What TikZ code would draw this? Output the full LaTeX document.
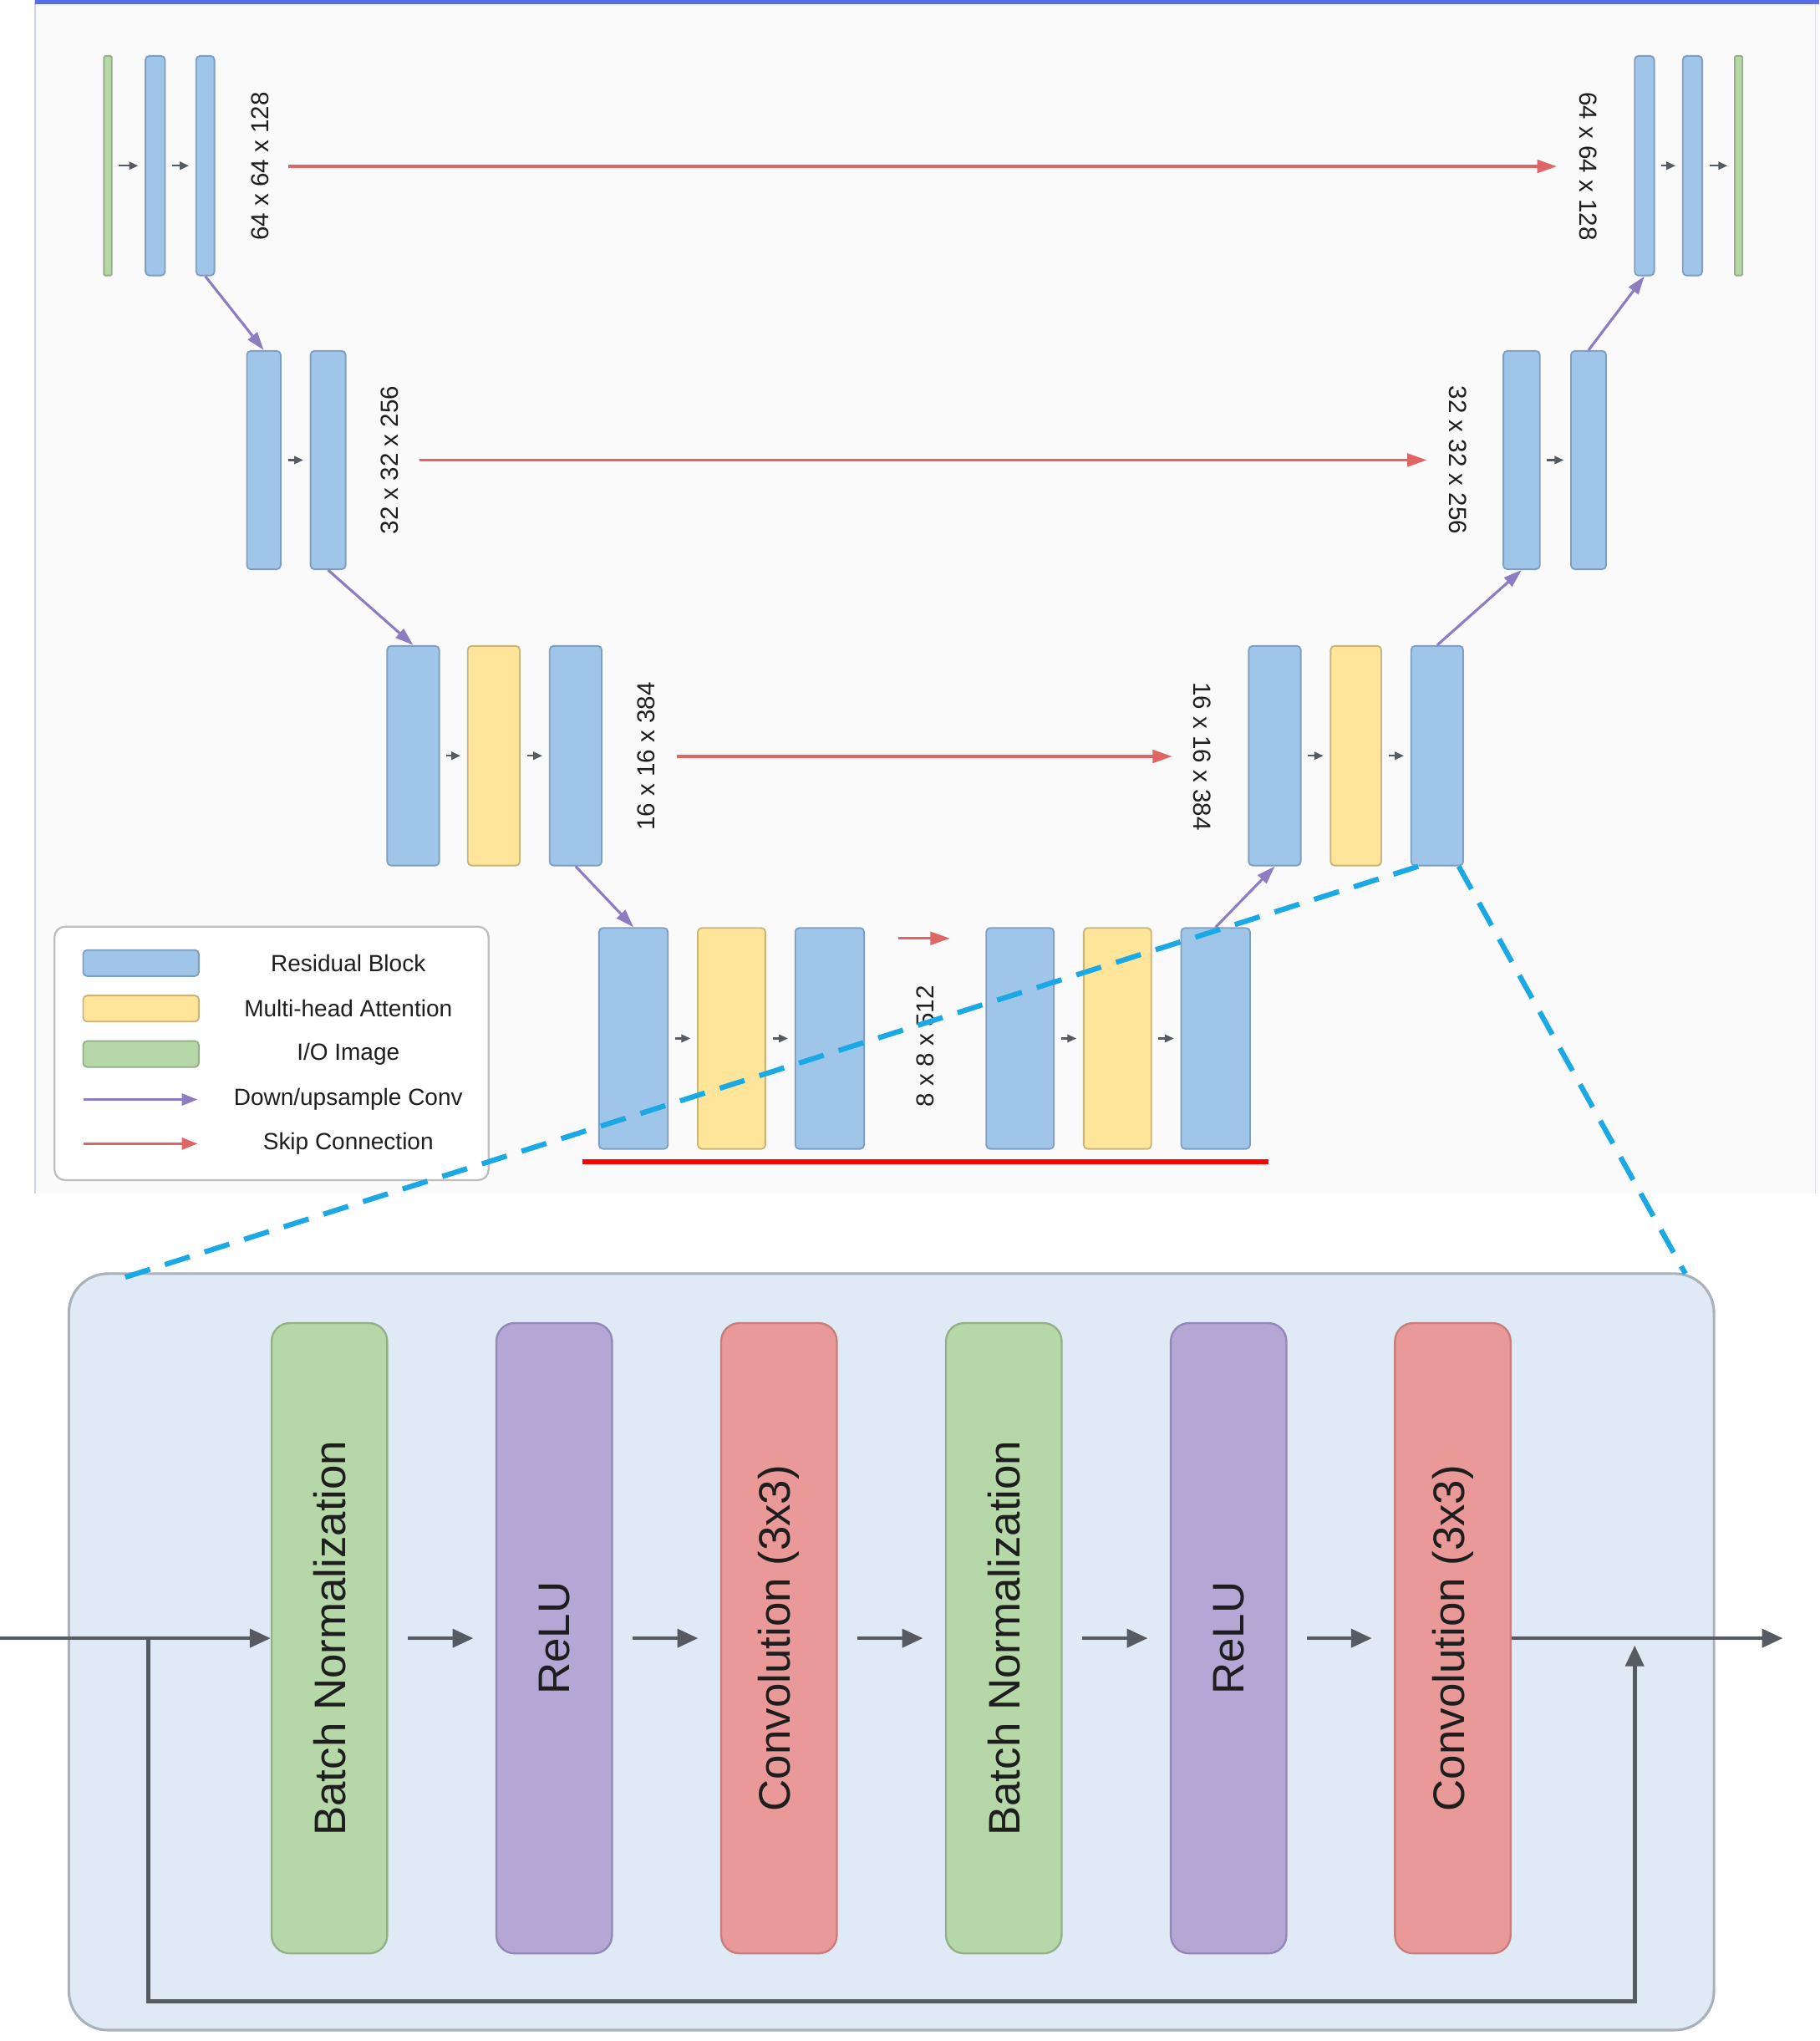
\documentclass[tikz,border=0pt]{standalone}
\usepackage{fontspec}
\setmainfont{Liberation Sans}
\usetikzlibrary{arrows.meta}
\definecolor{blueF}{HTML}{9FC5E8}
\definecolor{blueD}{HTML}{7E9FC2}
\definecolor{yelF}{HTML}{FFE599}
\definecolor{yelD}{HTML}{C9B57C}
\definecolor{grnF}{HTML}{B6D7A8}
\definecolor{grnD}{HTML}{93B088}
\definecolor{purF}{HTML}{B4A7D6}
\definecolor{purD}{HTML}{9387B5}
\definecolor{redF}{HTML}{EA9999}
\definecolor{redD}{HTML}{C97E7E}
\definecolor{purA}{HTML}{8E7CC3}
\definecolor{redA}{HTML}{E06666}
\definecolor{grayA}{HTML}{555B60}
\definecolor{cyanD}{HTML}{1BA9E6}
\definecolor{panelF}{HTML}{DFEAF6}
\definecolor{panelD}{HTML}{A9B2BB}
\definecolor{topbg}{HTML}{FAFAFA}
\definecolor{txt}{HTML}{1E1E1E}
\tikzset{
  blk/.style={draw=blueD, fill=blueF, line width=1.2pt, rounded corners=3pt, inner sep=0pt},
  blkb/.style={blk},
  blky/.style={blk, draw=yelD, fill=yelF},
  blkg/.style={blk, draw=grnD, fill=grnF, rounded corners=1pt},
  small/.style={draw=grayA, line width=1.5pt, -{Triangle[length=7pt,width=6pt]}, shorten <=5pt, shorten >=5pt},
  down/.style={draw=purA, line width=2pt, -{Triangle[length=14pt,width=9pt]}},
  skip/.style={draw=redA, line width=2pt, -{Triangle[length=15pt,width=10pt]}},
  dimlbl/.style={font=\fontsize{19}{22}\selectfont, text=txt, inner sep=0pt},
  leglbl/.style={font=\fontsize{18}{21}\selectfont, text=txt, inner sep=0pt},
  big/.style={draw, line width=1.5pt, rounded corners=14pt, minimum width=485pt, minimum height=89pt, inner sep=0pt,
    font=\fontsize{34}{40}\selectfont, text=txt},
  bgreen/.style={big, draw=grnD, fill=grnF},
  bpurple/.style={big, draw=purD, fill=purF},
  bred/.style={big, draw=redD, fill=redF},
  flow/.style={draw=grayA, line width=3pt, -{Triangle[length=16pt,width=14pt]}},
  cut/.style={draw=cyanD, line width=4pt, dash pattern=on 20pt off 12pt}
}
\begin{document}
\begin{tikzpicture}[x=1pt, y=-1pt]
\useasboundingbox (0,0) rectangle (1400,1570.4);
% upper panel background
\fill[topbg] (27,0) rectangle (1400,918);
\draw[draw={rgb,255:red,200;green,212;blue,240}, line width=1.5pt] (27,0) -- (27,918);
\draw[draw={rgb,255:red,225;green,228;blue,235}, line width=1pt] (1397,0) -- (1397,918);
\draw[draw={rgb,255:red,91;green,110;blue,225}, line width=3pt] (27,1.5) -- (1400,1.5);

% ---------- Row 1 ----------
\node[blkg, minimum width=6pt, minimum height=169pt] (g1) at (83,127.5) {};
\node[blkb, minimum width=15pt, minimum height=169pt] (b1a) at (119.5,127.5) {};
\node[blkb, minimum width=14pt, minimum height=169pt] (b1b) at (158,127.5) {};
\node[blkb, minimum width=15pt, minimum height=169pt] (b1c) at (1265.5,127.5) {};
\node[blkb, minimum width=15pt, minimum height=169pt] (b1d) at (1302.5,127.5) {};
\node[blkg, minimum width=6pt, minimum height=169pt] (g2) at (1338,127.5) {};
\draw[small] (g1) -- (b1a);
\draw[small] (b1a) -- (b1b);
\draw[small] (b1c) -- (b1d);
\draw[small] (b1d) -- (g2);
\node[dimlbl, rotate=90] (L1) at (200,128) {64 x 64 x 128};
\node[dimlbl, rotate=-90] (R1) at (1222,128) {64 x 64 x 128};
\draw[skip] ([xshift=22pt]L1.center) -- ([xshift=-24pt]R1.center);

% ---------- Row 2 ----------
\node[blkb, minimum width=26pt, minimum height=168pt] (b2a) at (203,354) {};
\node[blkb, minimum width=27pt, minimum height=168pt] (b2b) at (252.5,354) {};
\node[blkb, minimum width=28pt, minimum height=168pt] (b2c) at (1171,354) {};
\node[blkb, minimum width=27pt, minimum height=168pt] (b2d) at (1222.5,354) {};
\draw[small] (b2a) -- (b2b);
\draw[small] (b2c) -- (b2d);
\node[dimlbl, rotate=90] (L2) at (300,354) {32 x 32 x 256};
\node[dimlbl, rotate=-90] (R2) at (1122,354) {32 x 32 x 256};
\draw[skip] ([xshift=23pt]L2.center) -- ([xshift=-24pt]R2.center);

% ---------- Row 3 ----------
\node[blkb, minimum width=40pt, minimum height=169pt] (b3a) at (318,581.5) {};
\node[blky, minimum width=40pt, minimum height=169pt] (y3a) at (380,581.5) {};
\node[blkb, minimum width=40pt, minimum height=169pt] (b3b) at (443,581.5) {};
\node[blkb, minimum width=40pt, minimum height=169pt] (b3c) at (981,581.5) {};
\node[blky, minimum width=39pt, minimum height=169pt] (y3b) at (1043.5,581.5) {};
\node[blkb, minimum width=40pt, minimum height=169pt] (b3d) at (1106,581.5) {};
\draw[small] (b3a) -- (y3a);
\draw[small] (y3a) -- (b3b);
\draw[small] (b3c) -- (y3b);
\draw[small] (y3b) -- (b3d);
\node[dimlbl, rotate=90] (L3) at (497,582) {16 x 16 x 384};
\node[dimlbl, rotate=-90] (R3) at (925,582) {16 x 16 x 384};
\draw[skip] ([xshift=24pt]L3.center) -- ([xshift=-23pt]R3.center);

% ---------- Row 4 ----------
\node[blkb, minimum width=53pt, minimum height=170pt] (b4a) at (487.5,799) {};
\node[blky, minimum width=52pt, minimum height=170pt] (y4a) at (563,799) {};
\node[blkb, minimum width=53pt, minimum height=170pt] (b4b) at (638.5,799) {};
\node[blkb, minimum width=52pt, minimum height=170pt] (b4c) at (785,799) {};
\node[blky, minimum width=52pt, minimum height=170pt] (y4b) at (860,799) {};
\node[blkb, minimum width=53pt, minimum height=170pt] (b4d) at (935.5,799) {};
\draw[small] (b4a) -- (y4a);
\draw[small] (y4a) -- (b4b);
\draw[small] (b4c) -- (y4b);
\draw[small] (y4b) -- (b4d);
\node[dimlbl, rotate=90] (L4) at (712,805) {8 x 8 x 512};
\coordinate (s4a) at (691,722);
\coordinate (s4b) at (731,722);
\draw[skip] (s4a) -- (s4b);
\coordinate (ul1) at (448,894);
\coordinate (ul2) at (976,894);
\draw[draw={rgb,255:red,255;green,0;blue,0}, line width=4pt] (ul1) -- (ul2);

% ---------- down/upsample arrows ----------
\draw[down] (b1b.south) -- (b2a.north);
\draw[down] (b2b.south) -- (b3a.north);
\draw[down] (b3b.south) -- (b4a.north);
\draw[down] (b4d.north) -- (b3c.south);
\draw[down] (b3d.north) -- (b2c.south);
\draw[down] (b2d.north) -- (b1c.south);

% ---------- legend ----------
\node[draw={rgb,255:red,190;green,190;blue,190}, fill=white, line width=1.5pt, rounded corners=8pt,
      minimum width=334pt, minimum height=195pt, inner sep=0pt] (legend) at (209,810.5) {};
\node[blkb, minimum width=89pt, minimum height=20pt] (sw1) at (108.5,741) {};
\node[blky, minimum width=89pt, minimum height=20pt] (sw2) at (108.5,776) {};
\node[blkg, rounded corners=3pt, minimum width=89pt, minimum height=20pt] (sw3) at (108.5,811) {};
\coordinate (la1) at (64,846);
\coordinate (la2) at (152,846);
\coordinate (lb1) at (64,880);
\coordinate (lb2) at (152,880);
\draw[down, -{Triangle[length=12pt,width=9pt]}] (la1) -- (la2);
\draw[skip, -{Triangle[length=12pt,width=9pt]}] (lb1) -- (lb2);
\node[leglbl] (t1) at (268,741) {Residual Block};
\node[leglbl] (t2) at (268,776) {Multi-head Attention};
\node[leglbl] (t3) at (268,811) {I/O Image};
\node[leglbl] (t4) at (268,846) {Down/upsample Conv};
\node[leglbl] (t5) at (268,880) {Skip Connection};

% ---------- lower panel ----------
\node[draw=panelD, fill=panelF, line width=2pt, rounded corners=30pt,
      minimum width=1266pt, minimum height=582pt, inner sep=0pt] (panel) at (686,1271) {};
\node[bgreen, rotate=90] (bn1) at (253.5,1260.5) {Batch Normalization};
\node[bpurple, rotate=90] (re1) at (426.5,1260.5) {ReLU};
\node[bred, rotate=90] (cv1) at (599.5,1260.5) {Convolution (3x3)};
\node[bgreen, rotate=90] (bn2) at (772.5,1260.5) {Batch Normalization};
\node[bpurple, rotate=90] (re2) at (945.5,1260.5) {ReLU};
\node[bred, rotate=90] (cv2) at (1118,1260.5) {Convolution (3x3)};

\coordinate (inp) at (0,1260.5);
\coordinate (sk) at (114,1260.5);
\coordinate (skb) at (1258,1540);
\coordinate (ske) at (1258,1266);
\coordinate (outp) at (1372,1260.5);
\draw[flow] (inp) -- (bn1.north);
\draw[flow, shorten <=15pt, shorten >=17pt] (bn1.south) -- (re1.north);
\draw[flow, shorten <=15pt, shorten >=17pt] (re1.south) -- (cv1.north);
\draw[flow, shorten <=15pt, shorten >=17pt] (cv1.south) -- (bn2.north);
\draw[flow, shorten <=15pt, shorten >=17pt] (bn2.south) -- (re2.north);
\draw[flow, shorten <=15pt, shorten >=17pt] (re2.south) -- (cv2.north);
\draw[flow] (cv2.south) -- (outp);
\draw[flow] (sk) |- (skb) -- (ske);

% ---------- zoom lines ----------
\coordinate (zl) at (86,986);
\coordinate (zr) at (1297,980);
\draw[cut] ([xshift=6pt]b3d.south west) -- (zl);
\draw[cut] ([xshift=-4pt]b3d.south east) -- (zr);
\end{tikzpicture}
\end{document}
